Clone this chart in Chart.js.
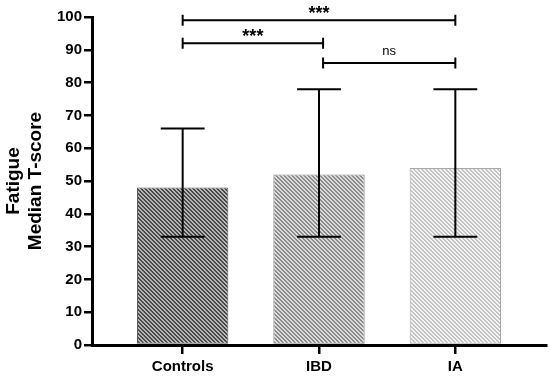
<!DOCTYPE html>
<html>
<head>
<meta charset="utf-8">
<script src="https://cdn.jsdelivr.net/npm/chart.js@4.4.1/dist/chart.umd.min.js"></script>
<style>
  html, body { margin: 0; padding: 0; background: #ffffff; }
  #contenedor { width: 550px; height: 378px; }
</style>
</head>
<body>
<div id="contenedor"><canvas id="graficoFatiga" width="550" height="378"></canvas></div>
<script>
// ==========================================================================
// DATOS DEL GRÁFICO
// ==========================================================================
const categorias = ['Controls', 'IBD', 'IA'];
const medianas = [48, 52, 54];
const rangoMin = [33, 33, 33];
const rangoMax = [66, 78, 78];
const ticksY = [0, 10, 20, 30, 40, 50, 60, 70, 80, 90, 100];

// Comparaciones de significancia (posiciones en unidades de categoría / eje Y)
const comparacionDesde = [0, 0, 1.03];
const comparacionHasta = [2, 1.03, 2];
const comparacionNivel = [99, 92, 86];
const comparacionTexto = ['***', '***', 'ns'];

const FUENTE = 'Arial, "Liberation Sans", sans-serif';

// Relleno rayado diagonal para cada barra
function crearRayado(oscuro, claro) {
    const c = document.createElement('canvas');
    c.width = 4; c.height = 4;
    const g = c.getContext('2d');
    for (let px = 0; px < 4; px++) {
        for (let py = 0; py < 4; py++) {
            g.fillStyle = ((px - py + 8) % 4) < 2 ? oscuro : claro;
            g.fillRect(px, py, 1, 1);
        }
    }
    return g.createPattern(c, 'repeat');
}

document.addEventListener("DOMContentLoaded", function () {
    const ctx = document.getElementById('graficoFatiga').getContext('2d');

    const rellenos = [
        crearRayado('#4a4a4a', '#b4b4b4'),
        crearRayado('#8c8c8c', '#dadada'),
        crearRayado('#c4c4c4', '#f2f2f2')
    ];
    const bordes = ['#5a5a5a', '#8a8a8a', '#a8a8a8'];

    // === Barras de error (rango) ===
    const barrasError = {
        id: 'barrasError',
        afterDatasetsDraw(chart) {
            const { ctx, scales: { x, y } } = chart;
            const meta = chart.getDatasetMeta(0);
            ctx.save();
            ctx.strokeStyle = '#000';
            ctx.lineWidth = 2;
            medianas.forEach((m, i) => {
                const px = x.getPixelForValue(i);
                const mitad = meta.data[i].width * 0.24;
                const yBajo = y.getPixelForValue(rangoMin[i]);
                const yAlto = y.getPixelForValue(rangoMax[i]);
                ctx.beginPath();
                ctx.moveTo(px, yAlto); ctx.lineTo(px, yBajo);
                ctx.moveTo(px - mitad, yAlto); ctx.lineTo(px + mitad, yAlto);
                ctx.moveTo(px - mitad, yBajo); ctx.lineTo(px + mitad, yBajo);
                ctx.stroke();
            });
            ctx.restore();
        }
    };

    // === Corchetes de significancia ===
    const corchetes = {
        id: 'corchetes',
        afterDraw(chart) {
            const { ctx, scales: { x, y } } = chart;
            ctx.save();
            ctx.strokeStyle = '#000';
            ctx.fillStyle = '#000';
            ctx.lineWidth = 2;
            comparacionTexto.forEach((texto, i) => {
                const x1 = x.getPixelForValue(comparacionDesde[i]);
                const x2 = x.getPixelForValue(comparacionHasta[i]);
                const yy = y.getPixelForValue(comparacionNivel[i]);
                ctx.beginPath();
                ctx.moveTo(x1, yy); ctx.lineTo(x2, yy);
                ctx.moveTo(x1, yy - 5.5); ctx.lineTo(x1, yy + 5.5);
                ctx.moveTo(x2, yy - 5.5); ctx.lineTo(x2, yy + 5.5);
                ctx.stroke();
                const esNs = texto === 'ns';
                ctx.font = esNs ? '13px ' + FUENTE : 'bold 18px ' + FUENTE;
                ctx.textAlign = 'center';
                ctx.textBaseline = 'alphabetic';
                ctx.fillText(texto, (x1 + x2) / 2, yy - (esNs ? 8 : 1));
            });
            ctx.restore();
        }
    };

    new Chart(ctx, {
        type: 'bar',
        data: {
            datasets: [{
                data: medianas.map((v, i) => ({ x: i, y: v })),
                backgroundColor: rellenos,
                borderColor: bordes,
                borderWidth: 1,
                borderSkipped: false,
                categoryPercentage: 1,
                barPercentage: 0.67
            }]
        },
        options: {
            responsive: false,
            animation: false,
            devicePixelRatio: 1,
            layout: { padding: { top: 17, right: 4, left: 0, bottom: 0 } },
            plugins: { legend: { display: false }, tooltip: { enabled: false } },
            scales: {
                x: {
                    type: 'linear',
                    offset: false,
                    min: -0.665,
                    max: 2.665,
                    afterBuildTicks: s => { s.ticks = categorias.map((c, i) => ({ value: i })); },
                    afterFit: s => { s.height = 33; },
                    ticks: {
                        callback: (v, i) => categorias[i],
                        color: '#000',
                        padding: 4,
                        maxRotation: 0,
                        font: { family: FUENTE, size: 15, weight: 'bold' }
                    },
                    grid: { offset: false, drawOnChartArea: false, color: '#000', lineWidth: 2.5, tickLength: 9 },
                    border: { display: true, color: '#000', width: 3 }
                },
                y: {
                    min: 0,
                    max: 100,
                    afterBuildTicks: s => { s.ticks = ticksY.map(v => ({ value: v })); },
                    afterFit: s => { s.width = 92; },
                    ticks: {
                        color: '#000',
                        padding: 2,
                        font: { family: FUENTE, size: 15, weight: 'bold' }
                    },
                    grid: { drawOnChartArea: false, color: '#000', lineWidth: 2.5, tickLength: 8 },
                    border: { display: true, color: '#000', width: 3 },
                    title: {
                        display: true,
                        text: ['Fatigue', 'Median T-score'],
                        color: '#000',
                        padding: { top: 3, bottom: 0 },
                        font: { family: FUENTE, size: 19, weight: 'bold', lineHeight: 1.16 }
                    }
                }
            }
        },
        plugins: [barrasError, corchetes]
    });
});
</script>
</body>
</html>
